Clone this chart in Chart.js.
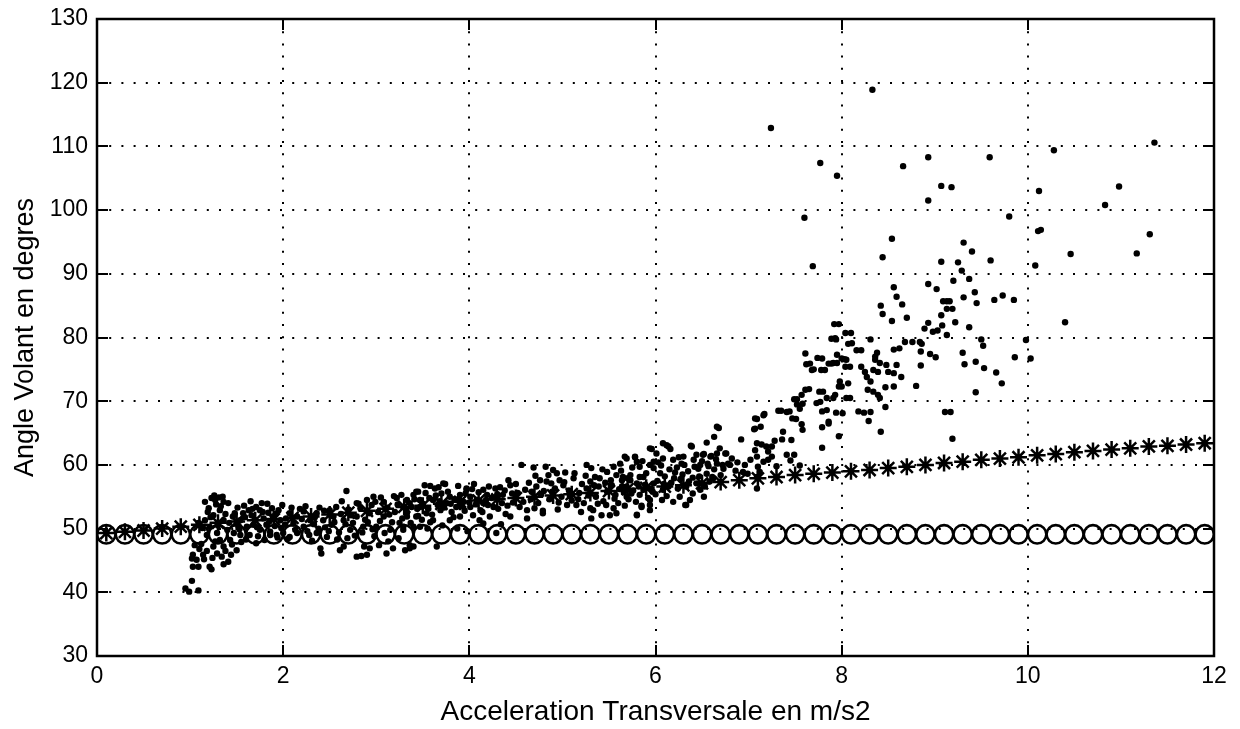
<!DOCTYPE html>
<html>
<head>
<meta charset="utf-8">
<script src="https://cdn.jsdelivr.net/npm/chart.js@4/dist/chart.umd.min.js"></script>
<style>
  html, body { margin: 0; padding: 0; background: #fff; }
  canvas { display: block; }
</style>
</head>
<body>
<canvas id="chart" width="1240" height="729"></canvas>
<script>
// tick labels
const xTicks = [0, 2, 4, 6, 8, 10, 12];
const yTicks = [30, 40, 50, 60, 70, 80, 90, 100, 110, 120, 130];

// x positions of the two model curves (asterisks and circles)
const markX = [0.1, 0.3, 0.5, 0.7, 0.9, 1.1, 1.3, 1.5, 1.7, 1.9, 2.1, 2.3, 2.5, 2.7, 2.9,
	3.1, 3.3, 3.5, 3.7, 3.9, 4.1, 4.3, 4.5, 4.7, 4.9, 5.1, 5.3, 5.5, 5.7, 5.9,
	6.1, 6.3, 6.5, 6.7, 6.9, 7.1, 7.3, 7.5, 7.7, 7.9, 8.1, 8.3, 8.5, 8.7, 8.9,
	9.1, 9.3, 9.5, 9.7, 9.9, 10.1, 10.3, 10.5, 10.7, 10.9, 11.1, 11.3, 11.5, 11.7, 11.9];

const starY = [49.3, 49.5, 49.7, 50.0, 50.3, 50.6, 50.9, 51.1, 51.3, 51.5, 51.7, 51.9, 52.2, 52.5, 52.8,
	53.1, 53.4, 53.6, 53.9, 54.2, 54.4, 54.6, 54.8, 55.0, 55.2, 55.4, 55.6, 55.9, 56.2, 56.4,
	56.6, 56.8, 57.1, 57.3, 57.6, 57.9, 58.1, 58.4, 58.6, 58.8, 59.0, 59.2, 59.5, 59.7, 60.0,
	60.3, 60.5, 60.8, 61.0, 61.2, 61.5, 61.7, 62.0, 62.2, 62.4, 62.6, 62.9, 63.0, 63.2, 63.4];

const circleY = [49.1, 49.1, 49.1, 49.1, 49.1, 49.1, 49.1, 49.1, 49.1, 49.1, 49.1, 49.1, 49.1, 49.1, 49.1,
	49.1, 49.1, 49.1, 49.1, 49.1, 49.1, 49.1, 49.1, 49.1, 49.1, 49.1, 49.1, 49.1, 49.1, 49.1,
	49.1, 49.1, 49.1, 49.1, 49.1, 49.1, 49.1, 49.1, 49.1, 49.1, 49.1, 49.1, 49.1, 49.1, 49.1,
	49.1, 49.1, 49.1, 49.1, 49.1, 49.1, 49.1, 49.1, 49.1, 49.1, 49.1, 49.1, 49.1, 49.1, 49.1];

// measured points, [acceleration, angle]
const dotsLow = [
	[0.95, 40.6], [0.99, 40.1], [1.02, 41.8], [1.09, 40.3], [1.03, 44.0], [1.07, 45.1], [1.03, 45.9], [1.14, 45.9],
	[1.21, 44.0], [1.05, 47.4], [1.09, 44.0], [1.16, 54.2], [1.23, 54.8], [1.27, 54.5], [1.36, 54.2], [1.41, 54.0],
	[1.20, 53.2], [1.25, 52.1], [1.32, 52.9], [1.36, 51.3], [1.16, 51.3], [1.21, 50.3], [1.29, 49.3], [1.32, 48.2],
	[1.36, 47.2], [1.25, 47.2], [1.29, 46.1], [1.34, 45.6], [1.50, 46.6], [1.43, 48.2], [1.10, 46.8], [1.12, 47.6],
	[1.15, 45.2], [1.18, 46.5], [1.24, 45.4], [1.27, 48.0], [1.30, 50.5], [1.33, 53.5], [1.38, 52.3], [1.40, 49.8],
	[1.42, 50.9], [1.45, 47.5], [1.47, 49.3], [1.18, 49.0], [1.22, 51.8], [1.28, 53.8], [1.35, 55.0], [1.31, 54.9],
	[1.26, 55.2], [1.19, 52.6], [1.13, 50.1], [1.09, 50.9], [1.38, 46.5], [1.44, 45.9], [1.48, 52.4], [1.51, 53.3],
	[1.53, 49.9], [1.55, 47.9], [1.41, 44.8], [1.36, 44.4], [1.23, 43.6], [1.02, 45.3],
	[1.46, 51.9], [1.54, 51.3], [1.63, 52.9], [1.66, 52.1], [1.71, 53.4], [1.75, 52.9], [1.70, 51.3], [1.61, 50.3],
	[1.64, 49.0], [1.71, 47.7], [1.54, 49.0], [1.77, 54.0], [1.88, 53.2], [1.89, 51.9], [1.82, 50.6], [1.75, 49.8],
	[1.95, 52.9], [1.97, 51.3], [1.86, 49.5], [1.86, 49.0], [1.93, 49.0], [2.00, 49.3], [1.58, 53.6], [1.68, 50.6],
	[1.79, 51.6], [1.84, 52.5], [1.91, 50.4], [1.99, 53.7], [1.60, 48.3], [1.73, 48.8], [1.80, 48.2], [2.02, 50.6],
	[1.57, 52.4], [1.65, 54.3], [1.83, 53.9], [1.94, 48.6], [2.05, 48.4]
];

const dotsMid = [
	[2.07, 52.4], [2.15, 51.9], [2.22, 52.7], [2.29, 51.3], [2.36, 52.4], [2.43, 51.3], [2.50, 52.9], [2.54, 51.9],
	[2.22, 50.3], [2.15, 49.3], [2.07, 48.7], [2.36, 49.3], [2.47, 48.7], [2.40, 46.9], [2.41, 46.1], [2.61, 46.6],
	[2.65, 47.2], [2.79, 45.6], [2.84, 45.7], [2.90, 45.9], [2.93, 46.9], [3.11, 46.1], [3.18, 46.9], [3.36, 47.4],
	[2.68, 55.9], [2.79, 54.0], [2.90, 54.5], [2.97, 55.0], [3.08, 54.2], [3.22, 54.8], [3.29, 53.4], [3.43, 55.8],
	[3.36, 54.0], [3.08, 51.9], [2.93, 52.4], [2.79, 51.9], [2.65, 51.3], [2.72, 49.8], [2.86, 50.3], [3.00, 50.3],
	[3.15, 49.8], [3.29, 49.8], [3.40, 50.3], [2.11, 50.8], [2.18, 53.1], [2.26, 49.6], [2.33, 50.7], [2.39, 53.3],
	[2.45, 50.2], [2.52, 50.6], [2.57, 53.4], [2.62, 52.3], [2.70, 53.0], [2.75, 50.9], [2.83, 53.2], [2.88, 51.4],
	[2.95, 53.7], [3.02, 52.6], [3.05, 54.9], [3.12, 53.3], [3.17, 51.0], [3.20, 52.6], [3.25, 50.9], [3.27, 55.3],
	[3.33, 52.5], [3.38, 53.4], [3.45, 52.0], [3.47, 54.5], [2.58, 48.3], [2.69, 48.5], [2.98, 48.8], [3.13, 48.0],
	[3.24, 48.5], [2.31, 48.1], [2.87, 47.2], [3.03, 47.4], [3.31, 46.6],
	[3.33, 54.5], [3.47, 53.4], [3.40, 55.3], [3.45, 55.8], [3.52, 56.8], [3.63, 56.3], [3.72, 57.1], [3.79, 55.0],
	[3.90, 55.3], [4.01, 55.0], [3.97, 56.3], [4.15, 56.1], [4.19, 55.3], [4.28, 56.3], [4.33, 56.5], [4.42, 57.6],
	[4.44, 56.8], [3.61, 54.5], [3.76, 54.0], [3.86, 53.4], [3.94, 54.2], [4.08, 54.5], [4.15, 54.0], [4.01, 53.4],
	[3.69, 52.9], [3.54, 52.4], [3.43, 51.9], [3.33, 51.9], [3.29, 50.3], [3.47, 50.3], [3.61, 51.3], [3.79, 51.3],
	[3.90, 51.9], [3.65, 47.2], [3.40, 47.2], [3.36, 46.9], [4.04, 52.1], [4.11, 51.3], [4.15, 50.8], [4.29, 49.3],
	[4.44, 51.9], [3.74, 57.0], [3.58, 56.7], [3.67, 56.5], [3.97, 56.1], [3.50, 53.9], [3.57, 54.8], [3.58, 51.0],
	[3.66, 53.7], [3.70, 55.5], [3.81, 52.6], [3.84, 54.6], [3.88, 56.7], [3.95, 52.8], [4.05, 57.0], [4.12, 52.9],
	[4.20, 53.7], [4.24, 54.8], [4.31, 53.1], [4.36, 55.3], [4.39, 52.3], [4.47, 54.1], [3.55, 50.0], [3.71, 50.5],
	[3.87, 50.0], [4.22, 51.9], [4.34, 50.7], [3.98, 49.6]
];

const dotsRise = [
	[4.56, 60.0], [4.69, 59.6], [4.82, 59.7], [4.90, 59.2], [4.94, 58.7], [5.03, 58.8], [4.97, 57.6], [5.01, 56.8],
	[4.88, 57.1], [4.76, 57.6], [4.83, 57.4], [4.72, 56.6], [4.67, 55.8], [5.12, 57.9], [5.26, 60.0], [5.31, 59.5],
	[5.35, 58.1], [5.30, 57.4], [5.26, 56.3], [5.40, 57.9], [5.48, 58.9], [5.55, 59.7], [5.62, 60.2], [5.69, 61.0],
	[5.78, 61.2], [5.83, 59.7], [5.96, 62.5], [5.98, 60.5], [5.73, 58.4], [5.64, 57.6], [5.58, 58.4], [5.53, 56.8],
	[5.48, 55.8], [5.69, 56.6], [5.80, 57.1], [5.87, 58.1], [5.98, 57.1], [5.30, 53.2], [5.33, 52.9], [5.55, 53.2],
	[5.31, 51.6], [5.51, 52.1], [5.80, 52.1], [5.85, 53.4], [5.94, 53.7], [5.15, 53.7], [5.05, 53.7], [4.79, 52.4],
	[4.62, 52.9], [4.62, 51.6], [4.79, 52.8], [5.42, 52.1], [5.94, 52.9], [4.52, 55.6], [4.58, 54.2], [4.64, 57.2],
	[4.74, 54.0], [4.80, 55.9], [4.86, 54.6], [4.92, 56.3], [4.99, 55.0], [5.07, 56.0], [5.10, 54.4], [5.18, 55.6],
	[5.21, 57.0], [5.23, 54.0], [5.36, 55.0], [5.39, 56.6], [5.44, 54.3], [5.46, 57.2], [5.57, 55.3], [5.60, 54.0],
	[5.66, 55.7], [5.71, 54.6], [5.76, 56.0], [5.83, 55.3], [5.89, 56.9], [5.92, 54.8], [5.97, 55.8], [4.70, 53.2],
	[4.95, 53.0], [5.20, 52.6], [5.58, 52.4], [5.67, 53.6],
	[5.67, 61.3], [5.78, 61.3], [5.80, 60.5], [5.94, 60.0], [6.08, 61.0], [6.19, 60.8], [6.28, 60.2], [6.23, 59.6],
	[6.05, 58.7], [5.98, 59.5], [6.12, 63.1], [6.16, 62.5], [6.07, 54.5], [6.19, 54.2], [5.85, 53.6], [5.80, 52.2],
	[5.69, 55.0], [5.74, 55.5], [5.64, 56.6], [5.65, 58.1], [5.73, 57.6], [5.83, 58.1], [5.87, 56.1], [6.08, 56.1],
	[6.14, 56.6], [6.24, 56.3], [6.33, 56.6], [6.44, 57.1], [6.48, 56.1], [6.53, 56.6], [6.58, 57.4], [6.62, 57.9],
	[6.33, 53.7], [5.94, 62.6], [6.08, 63.4], [6.14, 62.9], [6.01, 61.8], [6.30, 61.3], [6.39, 62.9], [6.44, 61.6],
	[6.52, 61.7], [6.59, 61.3], [6.66, 61.8], [6.75, 61.8], [6.78, 60.2], [6.66, 60.2], [6.80, 60.0], [5.94, 54.5],
	[6.32, 53.7], [6.37, 54.5], [6.68, 65.8], [6.63, 64.4], [6.76, 61.8], [6.72, 60.0], [6.60, 61.4], [6.56, 60.2],
	[6.51, 61.6], [6.41, 60.8], [6.38, 63.0], [6.48, 60.0], [6.66, 66.0], [6.02, 57.5], [6.10, 58.2], [6.17, 57.2],
	[6.21, 58.8], [6.27, 57.8], [6.35, 59.0], [6.40, 58.0], [6.46, 59.4], [6.55, 58.6], [6.63, 59.3], [6.70, 58.4],
	[6.86, 59.1], [6.00, 55.4], [6.12, 55.1], [6.26, 55.0], [6.40, 55.5], [6.52, 55.0], [6.06, 59.9], [6.31, 60.0],
	[6.69, 62.6], [6.55, 63.5]
];

// extra points inside the dense band
const dotsBand = [
	[1.52, 50.4], [1.59, 51.8], [1.67, 53.1], [1.72, 50.2], [1.78, 52.6], [1.85, 51.1], [1.92, 52.3], [1.98, 50.1],
	[2.03, 51.6], [2.09, 53.3], [2.13, 49.8], [2.20, 51.5], [2.24, 53.5], [2.28, 49.0], [2.34, 51.8], [2.38, 50.0],
	[2.44, 52.8], [2.49, 49.6], [2.55, 51.0], [2.60, 49.4], [2.63, 54.3], [2.67, 50.7], [2.73, 52.1], [2.77, 48.9],
	[2.81, 53.9], [2.85, 49.4], [2.91, 51.0], [2.96, 49.9], [2.99, 54.2], [3.04, 51.2], [3.09, 49.3], [3.14, 52.2],
	[3.19, 55.1], [3.23, 53.8], [3.28, 51.6], [3.32, 53.0], [3.37, 50.9], [3.41, 54.6], [3.44, 53.1], [3.49, 51.4],
	[3.53, 55.6], [3.56, 53.1], [3.60, 52.2], [3.64, 55.2], [3.68, 54.3], [3.73, 53.3], [3.77, 55.8], [3.80, 53.9],
	[3.83, 51.8], [3.89, 54.7], [3.92, 53.5], [3.96, 55.5], [4.00, 54.1], [4.03, 56.2], [4.07, 53.8], [4.10, 55.7],
	[4.14, 52.6], [4.18, 54.5], [4.21, 56.6], [4.26, 53.4], [4.30, 55.4], [4.35, 54.0], [4.38, 56.0], [4.41, 53.6],
	[4.46, 55.5], [4.50, 57.0], [4.54, 53.4], [4.60, 56.1], [4.66, 54.6], [4.71, 58.3], [4.77, 55.3], [4.85, 58.4],
	[4.89, 55.8], [4.96, 54.1], [5.02, 57.3], [5.08, 55.1], [5.13, 58.7], [5.17, 54.6], [5.25, 58.3], [5.28, 55.2],
	[5.34, 56.8], [5.38, 53.9], [5.43, 59.3], [5.47, 53.7], [5.52, 57.6], [5.56, 54.7], [5.61, 56.2], [5.63, 59.1],
	[5.70, 57.9], [5.75, 59.6], [5.79, 54.2], [5.82, 56.6], [5.86, 60.6], [5.90, 58.7], [5.95, 56.3], [6.03, 60.4],
	[6.09, 57.0], [6.15, 59.3], [6.20, 57.9], [6.25, 61.2], [6.29, 58.5], [6.36, 57.4], [6.42, 59.7], [6.47, 58.2],
	[6.50, 60.6], [6.57, 59.8], [6.61, 58.1], [6.65, 60.9], [6.73, 59.4], [6.82, 61.0], [6.88, 60.4], [6.94, 58.9]
];

const dotsSpread = [
	[6.92, 64.0], [7.35, 68.5], [7.44, 68.4], [7.51, 67.2], [7.57, 66.4], [7.58, 65.5], [7.37, 65.2], [7.36, 64.0],
	[7.46, 63.9], [7.28, 63.8], [7.25, 62.9], [7.19, 62.9], [7.21, 62.1], [7.09, 67.2], [7.17, 68.0], [7.06, 65.6],
	[7.13, 66.0], [7.09, 63.4], [7.14, 63.2], [7.09, 61.3], [7.02, 60.8], [6.96, 60.0], [7.10, 59.7], [7.12, 58.9],
	[7.09, 58.1], [7.09, 56.3], [7.21, 60.8], [7.16, 60.5], [7.25, 61.3], [7.41, 61.6], [7.49, 61.6], [7.45, 60.7],
	[7.07, 65.7], [7.16, 67.8], [7.07, 62.3], [7.07, 67.3], [7.32, 68.5], [7.41, 68.3], [7.47, 67.3], [7.30, 59.8],
	[7.55, 59.9], [6.99, 58.6],
	[7.61, 77.5], [7.74, 76.8], [7.62, 75.8], [7.68, 74.9], [7.78, 74.9], [7.86, 75.9], [8.00, 76.7], [8.04, 75.4],
	[8.16, 78.0], [8.07, 79.0], [8.04, 80.7], [7.92, 82.1], [7.89, 79.8], [7.66, 75.9], [7.70, 75.0], [7.79, 76.7],
	[7.89, 75.9], [7.95, 77.3], [7.93, 79.9], [7.65, 71.9], [7.57, 71.0], [7.52, 70.3], [7.58, 69.6], [7.55, 68.8],
	[7.80, 71.5], [7.77, 69.9], [7.84, 68.6], [7.91, 70.5], [8.00, 72.3], [8.09, 70.5], [8.01, 68.1], [7.86, 66.8],
	[7.79, 65.9], [7.97, 64.5], [7.79, 62.7], [7.61, 71.8], [7.49, 70.3], [7.52, 69.5], [7.76, 71.5], [7.73, 69.7],
	[7.84, 70.5], [7.79, 68.4], [7.94, 68.2], [7.97, 72.3], [8.05, 70.5], [8.07, 72.8], [7.86, 66.5], [7.98, 73.1],
	[7.93, 71.0], [8.09, 75.4], [8.05, 76.5], [7.95, 76.0], [7.91, 76.0], [7.82, 74.9], [8.03, 76.6], [8.11, 79.1],
	[7.94, 79.7], [8.10, 80.7], [7.97, 82.1],
	[8.21, 75.4], [8.25, 74.6], [8.27, 73.8], [8.31, 73.1], [8.34, 74.9], [8.39, 74.6], [8.41, 76.0], [8.36, 76.5],
	[8.48, 75.7], [8.50, 74.6], [8.56, 74.4], [8.59, 75.7], [8.28, 71.8], [8.34, 71.5], [8.39, 71.0], [8.41, 70.5],
	[8.21, 78.0], [8.38, 77.6], [8.36, 77.0], [8.56, 78.1], [8.62, 78.3], [8.68, 79.3], [8.76, 79.3], [8.84, 79.3],
	[8.86, 79.0], [8.85, 77.8], [8.95, 77.4], [9.01, 76.9], [8.31, 79.7], [8.18, 68.4], [8.24, 68.2], [8.31, 68.3],
	[8.29, 66.9], [8.42, 65.2], [8.47, 69.1], [8.47, 72.2], [8.56, 72.3], [8.64, 73.8], [8.80, 72.4], [8.85, 75.6],
	[8.56, 87.9], [8.59, 86.4], [8.65, 85.2], [8.42, 85.0], [8.44, 83.7], [8.70, 83.1], [8.54, 82.6], [8.54, 95.5],
	[8.44, 92.6], [8.93, 88.4], [8.93, 82.3], [8.89, 81.4], [8.98, 80.9]
];

const dotsTop = [
	[9.03, 81.1], [9.02, 87.6], [9.07, 91.9], [9.31, 94.9], [9.40, 93.5], [9.60, 92.1], [9.25, 91.8], [9.29, 90.5],
	[9.20, 88.9], [9.37, 89.2], [9.43, 87.1], [9.45, 85.4], [9.31, 86.3], [9.64, 85.9], [9.73, 86.6], [9.85, 85.9],
	[9.09, 85.7], [9.13, 85.7], [9.16, 85.7], [9.13, 84.5], [9.19, 84.5], [9.07, 83.5], [9.22, 82.4], [9.08, 81.9],
	[9.37, 81.6], [9.13, 80.4], [9.30, 77.6], [9.50, 79.7], [9.52, 78.7], [9.98, 79.6], [9.86, 76.9], [10.03, 76.7],
	[9.32, 75.8], [9.44, 76.2], [9.53, 75.2], [9.66, 74.5], [9.72, 72.8], [9.44, 71.4], [9.11, 68.3], [9.17, 68.3],
	[9.19, 64.1],
	[7.24, 112.9], [7.77, 107.4], [7.95, 105.4], [7.60, 98.8], [7.69, 91.2], [8.33, 118.9], [8.66, 106.9],
	[8.93, 108.3], [8.93, 101.5], [9.07, 103.8], [9.18, 103.6], [9.59, 108.3], [9.80, 99.0],
	[10.28, 109.4], [11.36, 110.6], [10.12, 103.0], [10.98, 103.7], [10.83, 100.8], [10.11, 96.7], [10.14, 96.9],
	[11.31, 96.2], [10.08, 91.3], [10.46, 93.1], [11.17, 93.2], [10.40, 82.4]
];

const FONT = '"Liberation Sans", Arial, Helvetica, sans-serif';

function toPoints(list) {
	return list.map(p => ({ x: p[0], y: p[1] }));
}

const dots = toPoints([].concat(dotsLow, dotsMid, dotsRise, dotsBand, dotsSpread, dotsTop));
const stars = markX.map((x, i) => ({ x, y: starY[i] }));
const circles = markX.map((x, i) => ({ x, y: circleY[i] }));

// MATLAB style box with inward ticks on all four sides
const framePlugin = {
	id: 'frame',
	afterDraw(chart) {
		const { ctx, chartArea: a, scales } = chart;
		const len = 11;
		ctx.save();
		ctx.strokeStyle = '#000';
		ctx.lineWidth = 2;
		ctx.beginPath();
		scales.x.ticks.forEach(t => {
			const px = Math.round(scales.x.getPixelForValue(t.value));
			ctx.moveTo(px, a.bottom); ctx.lineTo(px, a.bottom - len);
			ctx.moveTo(px, a.top); ctx.lineTo(px, a.top + len);
		});
		scales.y.ticks.forEach(t => {
			const py = Math.round(scales.y.getPixelForValue(t.value));
			ctx.moveTo(a.left, py); ctx.lineTo(a.left + len, py);
			ctx.moveTo(a.right, py); ctx.lineTo(a.right - len, py);
		});
		ctx.stroke();
		ctx.lineWidth = 2.5;
		ctx.strokeRect(a.left, a.top, a.right - a.left, a.bottom - a.top);
		ctx.restore();
	}
};

new Chart(document.getElementById('chart').getContext('2d'), {
	type: 'scatter',
	data: {
		datasets: [
			{
				label: 'mesures',
				data: dots,
				pointStyle: 'circle',
				pointRadius: 3.2,
				pointBackgroundColor: '#000',
				pointBorderWidth: 0,
			},
			{
				label: 'modele 1',
				data: stars,
				pointStyle: 'star',
				pointRadius: 8.5,
				pointBorderColor: '#000',
				pointBorderWidth: 2.5,
			},
			{
				label: 'modele 2',
				data: circles,
				pointStyle: 'circle',
				pointRadius: 9.2,
				pointBackgroundColor: 'rgba(0,0,0,0)',
				pointBorderColor: '#000',
				pointBorderWidth: 2.6,
			},
		],
	},
	options: {
		responsive: false,
		animation: false,
		devicePixelRatio: 1,
		layout: { padding: { top: 19, right: 26, left: 0, bottom: 0 } },
		plugins: {
			legend: { display: false },
			tooltip: { enabled: false },
		},
		scales: {
			x: {
				type: 'linear',
				min: 0,
				max: 12,
				afterBuildTicks: s => { s.ticks = xTicks.map(v => ({ value: v })); },
				afterFit: s => { s.height = 73; s.paddingLeft = 0; s.paddingRight = 0; },
				grid: { color: '#000', lineWidth: 2, drawTicks: false },
				border: { display: false, dash: [2, 10.2] },
				ticks: { color: '#000', padding: 7, font: { family: FONT, size: 23 } },
				title: {
					display: true,
					text: 'Acceleration Transversale en m/s2',
					color: '#000',
					font: { family: FONT, size: 28 },
					padding: { top: 0, bottom: 0 },
				},
			},
			y: {
				type: 'linear',
				min: 30,
				max: 130,
				afterBuildTicks: s => { s.ticks = yTicks.map(v => ({ value: v })); },
				afterFit: s => { s.width = 97; s.paddingTop = 0; s.paddingBottom = 0; },
				grid: { color: '#000', lineWidth: 2, drawTicks: false },
				border: { display: false, dash: [2, 10.2] },
				ticks: { color: '#000', padding: 9, font: { family: FONT, size: 23 } },
				title: {
					display: true,
					text: 'Angle Volant en degres',
					color: '#000',
					font: { family: FONT, size: 27 },
					padding: { top: 9, bottom: 0 },
				},
			},
		},
	},
	plugins: [framePlugin],
});
</script>
</body>
</html>
